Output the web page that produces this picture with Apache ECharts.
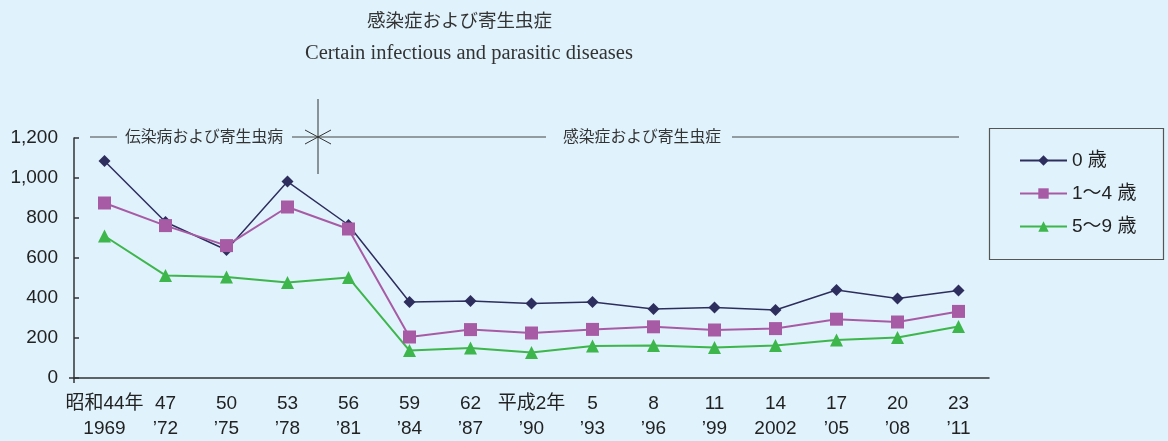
<!DOCTYPE html>
<html><head><meta charset="utf-8">
<script src="https://cdn.jsdelivr.net/npm/echarts@6/dist/echarts.min.js"></script>
<style>html,body{margin:0;padding:0;background:#e0f2fc;}#c{width:1168px;height:441px;}</style>
</head><body><div id="c"></div>
<script>
const categories = ['昭和44年\n1969','47\n’72','50\n’75','53\n’78','56\n’81','59\n’84','62\n’87','平成2年\n’90','5\n’93','8\n’96','11\n’99','14\n2002','17\n’05','20\n’08','23\n’11'];
const age0 = [1085, 780, 640, 982, 765, 380, 385, 373, 380, 345, 353, 340, 440, 397, 437];
const age1to4 = [875, 762, 662, 855, 745, 205, 242, 225, 243, 256, 240, 247, 294, 280, 333];
const age5to9 = [710, 513, 505, 478, 502, 137, 150, 127, 160, 163, 152, 162, 190, 202, 257];
const seriesNames = ['0 歳', '1〜4 歳', '5〜9 歳'];

const FONT = '"Liberation Sans", "Noto Sans CJK JP", sans-serif';
const chart = echarts.init(document.getElementById('c'));
chart.setOption({
  backgroundColor: '#e0f2fc',
  animation: false,
  textStyle: { fontFamily: FONT },
  grid: { left: 74, right: 179, top: 138, bottom: 63 },
  xAxis: {
    type: 'category', data: categories, boundaryGap: true,
    axisLine: { lineStyle: { color: '#333', width: 1.5 } },
    axisTick: { alignWithLabel: true, interval: 0, length: 5, lineStyle: { color: '#333', width: 1.5 } },
    axisLabel: { interval: 0, color: '#222', fontSize: 19, lineHeight: 25, margin: 13, fontFamily: FONT }
  },
  yAxis: {
    type: 'value', min: 0, max: 1200, interval: 200,
    splitLine: { show: false },
    axisLine: { show: true, lineStyle: { color: '#333', width: 1.5 } },
    axisTick: { show: true, inside: true, length: 5, lineStyle: { color: '#333', width: 1.5 } },
    axisLabel: { color: '#222', fontSize: 19, margin: 16, fontFamily: FONT,
      formatter: v => v.toLocaleString('en-US') }
  },
  legend: {
    orient: 'vertical', left: 1014, top: 146, itemWidth: 47, itemHeight: 13, itemGap: 14,
    textStyle: { fontSize: 19, color: '#222', fontFamily: FONT },
    data: seriesNames
  },
  series: [
    { name: seriesNames[0], type: 'line', data: age0, symbol: 'diamond', symbolSize: 12,
      itemStyle: { color: '#2e2e5e' }, lineStyle: { color: '#2e2e5e', width: 1.5 } },
    { name: seriesNames[1], type: 'line', data: age1to4, symbol: 'rect', symbolSize: 13,
      itemStyle: { color: '#a85ba5' }, lineStyle: { color: '#a85ba5', width: 2 } },
    { name: seriesNames[2], type: 'line', data: age5to9, symbol: 'triangle', symbolSize: 13,
      itemStyle: { color: '#3db64b' }, lineStyle: { color: '#3db64b', width: 2 } }
  ],
  graphic: [
    { type: 'text', top: 11, left: 367, style: { text: '感染症および寄生虫症', font: '18.5px "Noto Sans CJK JP"', fill: '#333' } },
    { type: 'text', top: 43, left: 305, style: { text: 'Certain infectious and parasitic diseases', font: '20.5px "Liberation Serif", serif', fill: '#333' } },
    // legend frame
    { type: 'rect', shape: { x: 989.5, y: 128.5, width: 174, height: 131 }, style: { fill: 'none', stroke: '#555', lineWidth: 1.2 } },
    // period annotation lines
    { type: 'line', shape: { x1: 90, y1: 137, x2: 117, y2: 137 }, style: { stroke: '#444', lineWidth: 1 } },
    { type: 'text', left: 125, top: 128, style: { text: '伝染病および寄生虫病', font: '15.8px "Noto Sans CJK JP"', fill: '#333' } },
    { type: 'line', shape: { x1: 292, y1: 137, x2: 546, y2: 137 }, style: { stroke: '#444', lineWidth: 1 } },
    { type: 'text', left: 563, top: 128, style: { text: '感染症および寄生虫症', font: '15.8px "Noto Sans CJK JP"', fill: '#333' } },
    { type: 'line', shape: { x1: 732, y1: 137, x2: 959, y2: 137 }, style: { stroke: '#444', lineWidth: 1 } },
    { type: 'line', shape: { x1: 318, y1: 99, x2: 318, y2: 174 }, style: { stroke: '#333', lineWidth: 1 } },
    { type: 'line', shape: { x1: 305, y1: 130, x2: 331, y2: 144 }, style: { stroke: '#333', lineWidth: 1 } },
    { type: 'line', shape: { x1: 305, y1: 144, x2: 331, y2: 130 }, style: { stroke: '#333', lineWidth: 1 } },
    // small extensions at the origin
    { type: 'line', shape: { x1: 69, y1: 378, x2: 74, y2: 378 }, style: { stroke: '#333', lineWidth: 1.5 } },
    { type: 'line', shape: { x1: 74, y1: 378, x2: 74, y2: 383 }, style: { stroke: '#333', lineWidth: 1.5 } }
  ]
});
</script></body></html>
